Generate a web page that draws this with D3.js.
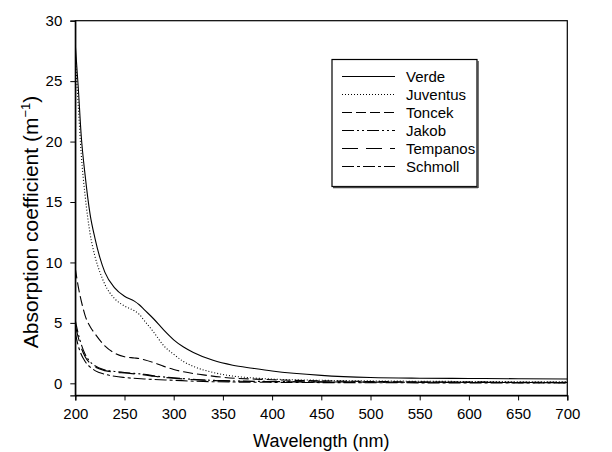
<!DOCTYPE html>
<html><head><meta charset="utf-8">
<script src="https://cdn.jsdelivr.net/npm/d3@7"></script>
<style>
body{margin:0;background:#fff;}
text{font-family:Arial,"Liberation Sans",Helvetica,sans-serif;fill:#000;}
</style></head>
<body>
<svg id="c" width="612" height="452"></svg>
<script>
const seriesNames = ["Verde","Juventus","Toncek","Jakob","Tempanos","Schmoll"];
const xTicks = [200,250,300,350,400,450,500,550,600,650,700];
const yTicks = [0,5,10,15,20,25,30];

const verdeX = [200,203,206,210,215,220,225,230,240,250,260,265,270,280,290,300,310,320,340,360,380,400,450,500,550,600,650,700];
const verdeY = [28,24.5,20.5,17.2,14,12,10.4,9.2,7.9,7.2,6.8,6.5,6.1,5.3,4.4,3.6,3.0,2.55,1.9,1.5,1.25,1.02,0.66,0.48,0.42,0.4,0.38,0.36];

const juvX = [200,203,206,210,215,220,225,230,240,250,260,265,270,280,290,300,310,320,340,360,380,400,450,500,600,700];
const juvY = [27,23,19,15.5,12.4,10.5,9.2,8.2,7.0,6.4,6.0,5.7,5.2,4.2,3.1,2.4,1.8,1.4,0.9,0.6,0.45,0.35,0.25,0.2,0.15,0.12];

const toncekX = [200,203,207,210,215,220,230,240,250,260,265,270,280,290,300,310,330,350,400,450,500,600,700];
const toncekY = [9.5,8.0,6.5,5.6,4.7,4.1,3.1,2.5,2.2,2.1,2.05,1.95,1.7,1.4,1.15,0.95,0.7,0.5,0.3,0.2,0.15,0.1,0.08];

const jakobX = [200,203,205,210,215,220,230,240,250,260,270,280,300,330,350,400,500,600,700];
const jakobY = [5.2,4.1,3.5,2.4,1.8,1.45,1.12,0.98,0.9,0.82,0.75,0.62,0.45,0.28,0.22,0.15,0.1,0.07,0.05];

const tempX = [200,203,205,210,215,220,230,240,250,260,270,280,300,330,350,400,500,600,700];
const tempY = [4.8,3.8,3.2,2.2,1.65,1.35,1.05,0.92,0.85,0.78,0.7,0.58,0.42,0.26,0.2,0.14,0.1,0.08,0.06];

const schmollX = [200,203,205,210,215,220,230,240,250,270,300,330,400,500,700];
const schmollY = [4.2,3.1,2.6,1.8,1.35,1.05,0.75,0.58,0.48,0.36,0.25,0.15,0.08,0.05,0.02];

const dashes = [null,"1,2","10,4","12,3,2,3,2,3","16,8","12,3,3,3"];
const seriesX = [verdeX,juvX,toncekX,jakobX,tempX,schmollX];
const seriesY = [verdeY,juvY,toncekY,jakobY,tempY,schmollY];

const svg = d3.select("#c");
const L=75.3, R=567.3, T=20.7, B=395.4;
const x = d3.scaleLinear().domain([200,700]).range([L,R]);
const y = d3.scaleLinear().domain([-1,30]).range([B,T]);

// frame
svg.append("rect").attr("x",L).attr("y",T).attr("width",R-L).attr("height",B-T)
  .attr("fill","none").attr("stroke","#000").attr("stroke-width",1.2);

const xAx = svg.append("g").attr("transform",`translate(0,${B})`)
  .call(d3.axisBottom(x).tickValues(xTicks).tickSize(5).tickPadding(8).tickFormat(d3.format("d")));
const yAx = svg.append("g").attr("transform",`translate(${L},0)`)
  .call(d3.axisLeft(y).tickValues(yTicks).tickSize(5).tickPadding(8).tickFormat(d3.format("d")));
[xAx,yAx].forEach(g=>{
  g.select(".domain").attr("stroke","#000").attr("stroke-width",1.2);
  g.selectAll("line").attr("stroke","#000").attr("stroke-width",1);
  g.selectAll("text").style("font-size","15px").attr("font-family","Arial, 'Liberation Sans', sans-serif").attr("fill","#000");
});

const line = d3.line().x(d=>x(d[0])).y(d=>y(d[1])).curve(d3.curveMonotoneX);
const clip = svg.append("clipPath").attr("id","pc").append("rect")
  .attr("x",L).attr("y",T).attr("width",R-L).attr("height",B-T);
seriesNames.forEach((n,i)=>{
  const pts = seriesX[i].map((v,j)=>[v,seriesY[i][j]]);
  svg.append("path").datum(pts).attr("d",line).attr("fill","none")
    .attr("stroke","#000").attr("stroke-width",1.1)
    .attr("clip-path","url(#pc)")
    .attr("stroke-dasharray",dashes[i]);
});

// legend
const lg = svg.append("g");
lg.append("rect").attr("x",332).attr("y",59.5).attr("width",145).attr("height",127)
  .attr("fill","#fff").attr("stroke","#000").attr("stroke-width",1.2);
lg.append("line").attr("x1",333).attr("x2",478).attr("y1",187.5).attr("y2",187.5).attr("stroke","#444").attr("stroke-width",1.5);
lg.append("line").attr("x1",478).attr("x2",478).attr("y1",61).attr("y2",188).attr("stroke","#444").attr("stroke-width",1.5);
seriesNames.forEach((n,i)=>{
  const yy = 76.5 + i*18;
  lg.append("line").attr("x1",342).attr("x2",395).attr("y1",yy).attr("y2",yy)
    .attr("stroke","#000").attr("stroke-width",1.1).attr("stroke-dasharray",dashes[i]);
  lg.append("text").attr("x",406).attr("y",yy+5.5).style("font-size","15px").text(n);
});

// axis titles
svg.append("text").attr("x",(L+R)/2).attr("y",447).attr("text-anchor","middle")
  .style("font-size","18px").text("Wavelength (nm)");
const yt = svg.append("text").attr("transform","translate(38,222) rotate(-90)")
  .attr("text-anchor","middle").style("font-size","21px");
yt.append("tspan").text("Absorption coefficient (m");
yt.append("tspan").attr("dy","-8").style("font-size","13px").text("−1");
yt.append("tspan").attr("dy","8").text(")");
</script>
</body></html>
